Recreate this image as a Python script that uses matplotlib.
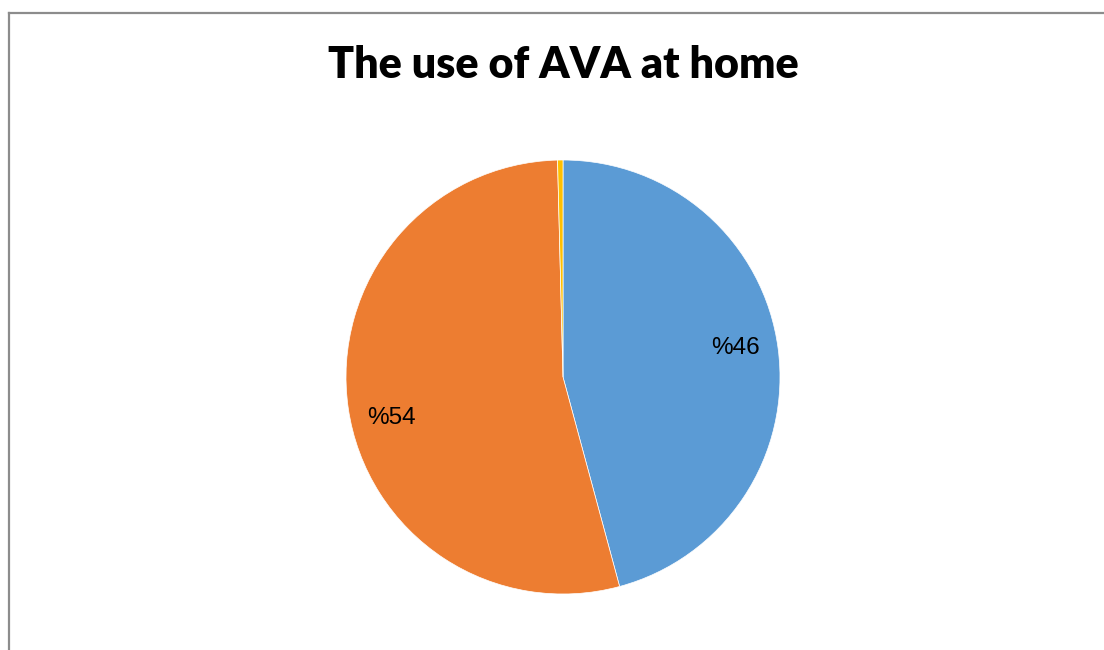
import matplotlib
matplotlib.use("Agg")
import matplotlib.pyplot as plt
from matplotlib.lines import Line2D

# --- DATA ---
labels = ["Yes", "No", "Other"]
values = [45.8, 53.8, 0.4]
colors = ["#5B9BD5", "#ED7D31", "#FFC000"]
title = "The use of AVA at home"

W, H = 1104, 650
fig = plt.figure(figsize=(W / 100, H / 100), dpi=100)

# pie axes: centre (563, 377) px from top, radius 217 px
cx, cy, r = 563, 377, 217
ax = fig.add_axes([(cx - r) / W, (H - cy - r) / H, 2 * r / W, 2 * r / H])


def pct_label(p):
    if p < 1:
        return ""
    return "%" + f"{p:.0f}"


wedges, texts, autotexts = ax.pie(
    values, colors=colors, startangle=90, counterclock=False,
    autopct=pct_label, pctdistance=0.81,
    wedgeprops=dict(edgecolor="white", linewidth=0.5),
    textprops=dict(fontsize=17.5, family="Liberation Sans", color="black"),
)
# small nudges so labels sit where the original puts them
nudges = [(-0.01, 0.028), (0.01, -0.07), (0, 0)]
for t, (dx, dy) in zip(autotexts, nudges):
    x, y = t.get_position()
    t.set_position((x + dx, y + dy))

ax.set_xlim(-1, 1)
ax.set_ylim(-1, 1)
ax.set_aspect("equal")

fig.text(cx / W, 1 - 65 / H, title, ha="center", va="center",
         fontsize=31, fontweight="heavy", family="Lato")

# chart frame (left and top edges visible)
frame_col = "#8c8c8c"
fig.add_artist(Line2D([9 / W, 9 / W], [0, 1 - 13 / H], color=frame_col, lw=1.6))
fig.add_artist(Line2D([9 / W, 1], [1 - 13 / H, 1 - 13 / H], color=frame_col, lw=1.6))

fig.savefig("out.png", dpi=100)
